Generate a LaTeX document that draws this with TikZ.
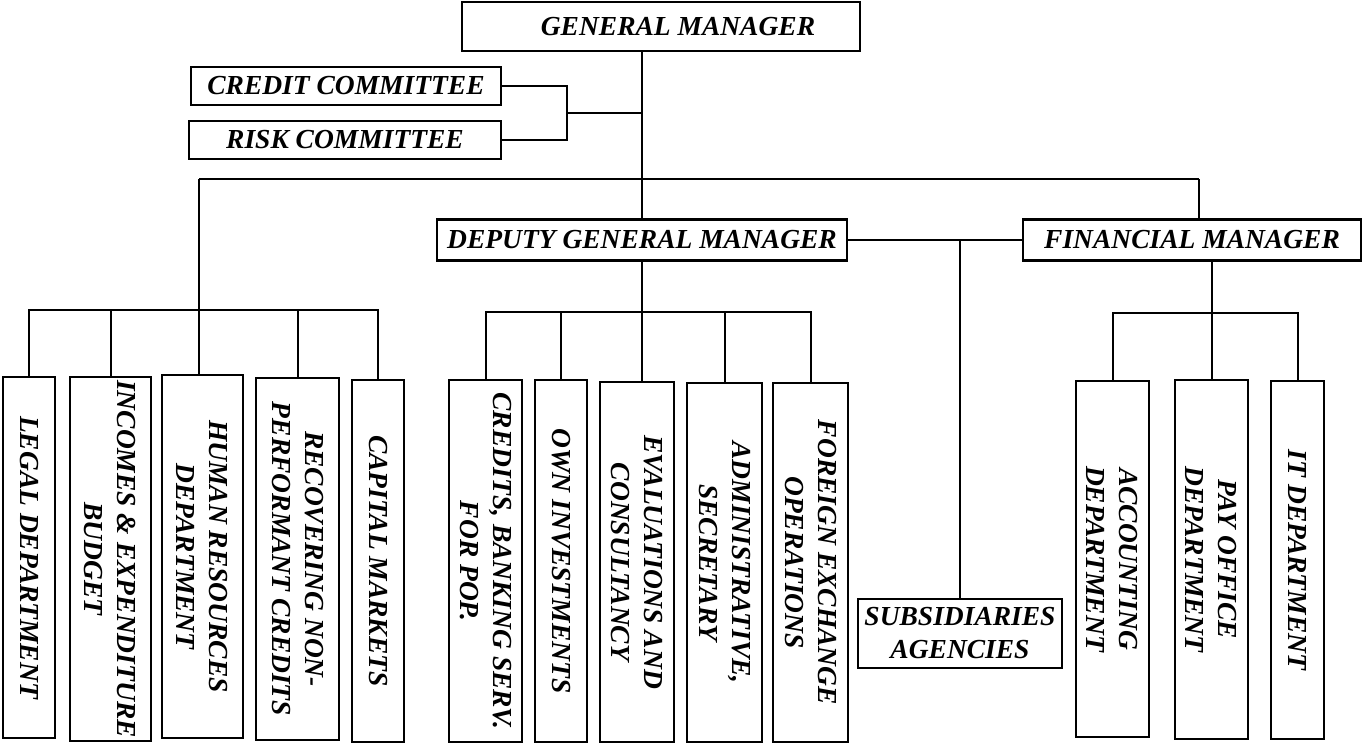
\documentclass[tikz,border=0pt]{standalone}
\usepackage{fontspec}
\setmainfont{Liberation Serif}
\begin{document}
\begin{tikzpicture}[x=1pt,y=-1pt,
  box/.style={draw,line width=2.4pt,inner sep=0pt,align=center,
    font=\bfseries\itshape\fontsize{27.5}{33}\selectfont},
  vbox/.style={box,rotate=-90},
  link/.style={line width=2pt}]
\useasboundingbox (0,0) rectangle (1362,743);

\node[box,minimum width=398,minimum height=49] (gm) at (661,26.5) {\hspace*{34pt}GENERAL MANAGER};
\node[box,minimum width=310,minimum height=38] (credit) at (346,86) {CREDIT COMMITTEE};
\node[box,minimum width=312,minimum height=38] (risk) at (345,140) {RISK COMMITTEE};
\node[box,minimum width=410,minimum height=41] (dgm) at (642,240) {DEPUTY GENERAL MANAGER};
\node[box,minimum width=338,minimum height=41] (fm) at (1192,240) {FINANCIAL MANAGER};
\node[box,minimum width=204,minimum height=69] (subs) at (960,633.5) {SUBSIDIARIES\\AGENCIES};

\node[vbox,minimum width=361,minimum height=52] (legal) at (29,557.5) {LEGAL DEPARTMENT};
\node[vbox,minimum width=364,minimum height=81] (budget) at (110.5,559) {INCOMES \& EXPENDITURE\\BUDGET};
\node[vbox,minimum width=363,minimum height=81] (hr) at (202.5,556.5) {HUMAN RESOURCES\\DEPARTMENT};
\node[vbox,minimum width=362,minimum height=83] (recov) at (297.5,559) {RECOVERING NON-\\PERFORMANT CREDITS};
\node[vbox,minimum width=362,minimum height=52] (capital) at (378,561) {CAPITAL MARKETS};

\node[vbox,minimum width=362,minimum height=73] (credits) at (485.5,561) {CREDITS, BANKING SERV.\\FOR POP.};
\node[vbox,minimum width=362,minimum height=52] (owninv) at (561,561) {OWN INVESTMENTS};
\node[vbox,minimum width=360,minimum height=74] (eval) at (637,562) {EVALUATIONS AND\\CONSULTANCY};
\node[vbox,minimum width=359,minimum height=75] (admin) at (724.5,562.5) {ADMINISTRATIVE,\\SECRETARY};
\node[vbox,minimum width=359,minimum height=75] (forex) at (810.5,562.5) {FOREIGN EXCHANGE\\OPERATIONS};

\node[vbox,minimum width=356,minimum height=73] (acc) at (1112.5,559) {ACCOUNTING\\DEPARTMENT};
\node[vbox,minimum width=359,minimum height=73] (pay) at (1211.5,559.5) {PAY OFFICE\\DEPARTMENT};
\node[vbox,minimum width=358,minimum height=53] (it) at (1297.5,560) {IT DEPARTMENT};

\coordinate (busL) at (199,179);
\coordinate (busR) at (1199,179);
\coordinate (brk) at (567,113);
\coordinate (lbus) at (0,310);
\coordinate (mbus) at (0,312);
\coordinate (rbus) at (0,313);

\draw[link] (gm.south -| dgm.north) -- (dgm.north);
\draw[link] (busL) -- (busR);
\draw[link] (busL) -- (busL |- hr.west);
\draw[link] (busR) -- (busR |- fm.north);
\draw[link] (credit.east) -| (brk |- risk.east) -- (risk.east);
\draw[link] (brk) -- (brk -| dgm.north);
\draw[link] (dgm.east) -- (fm.west);
\draw[link] (subs.north) -- (subs.north |- dgm.east);

\draw[link] (legal.west) -- (legal.west |- lbus) -- (capital.west |- lbus) -- (capital.west);
\foreach \n in {budget,recov}
  \draw[link] (\n.west) -- (\n.west |- lbus);

\draw[link] (dgm.south) -- (eval.west -| dgm.south);
\draw[link] (credits.west) -- (credits.west |- mbus) -- (forex.west |- mbus) -- (forex.west);
\foreach \n in {owninv,admin}
  \draw[link] (\n.west) -- (\n.west |- mbus);

\draw[link] (fm.south -| pay.west) -- (pay.west);
\draw[link] (acc.west) -- (acc.west |- rbus) -- (it.west |- rbus) -- (it.west);
\end{tikzpicture}
\end{document}
